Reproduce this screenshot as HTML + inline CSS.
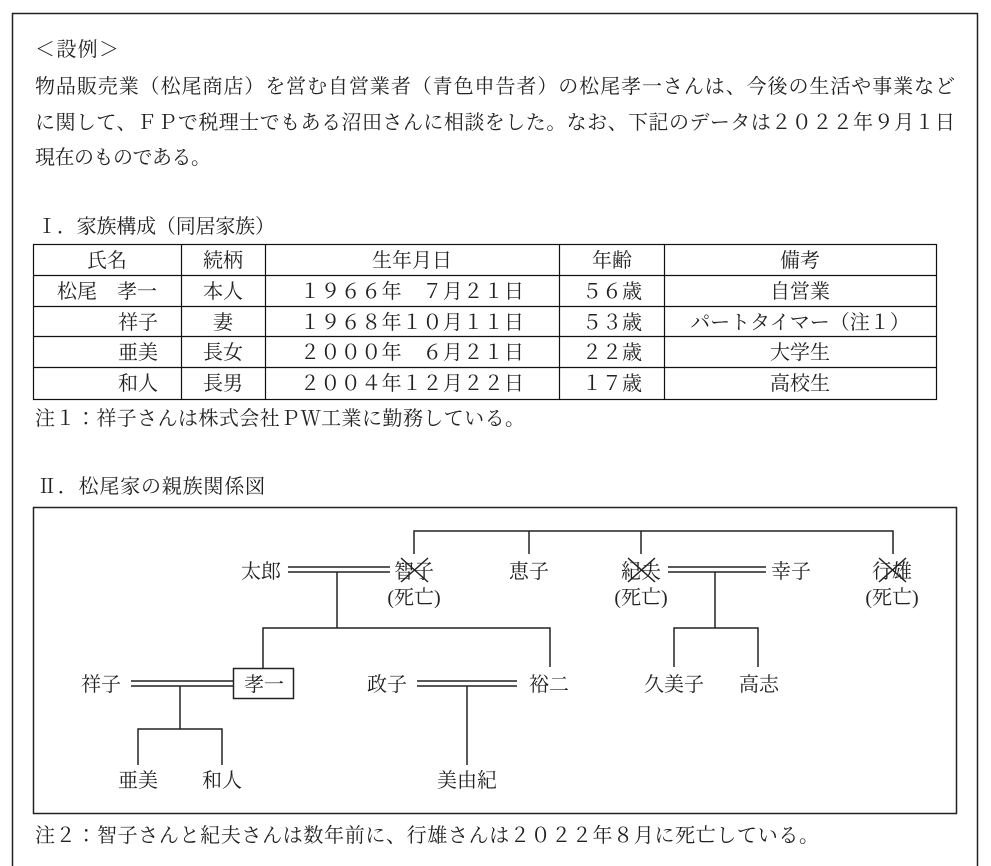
<!DOCTYPE html>
<html><head><meta charset="utf-8"><style>
html,body{margin:0;padding:0;background:#fff;width:991px;height:866px;overflow:hidden}
svg text{font-family:"Liberation Serif","Noto Serif CJK JP",serif;font-size:20px;fill:#222}
</style></head><body>
<svg width="991" height="866" viewBox="0 0 991 866" xmlns="http://www.w3.org/2000/svg">
<g stroke="#222" fill="none">
<rect x="12.5" y="13.5" width="965" height="860" stroke-width="1.5"/>
</g>
<text x="35" y="56" textLength="84" lengthAdjust="spacing">＜設例＞</text>
<text x="35" y="93" textLength="920" lengthAdjust="spacing">物品販売業（松尾商店）を営む自営業者（青色申告者）の松尾孝一さんは、今後の生活や事業など</text>
<text x="35" y="129" textLength="920" lengthAdjust="spacing">に関して、ＦＰで税理士でもある沼田さんに相談をした。なお、下記のデータは２０２２年９月１日</text>
<text x="35" y="164" textLength="176" lengthAdjust="spacing">現在のものである。</text>
<text x="37" y="233" textLength="238" lengthAdjust="spacing">Ⅰ．家族構成（同居家族）</text>

<g stroke="#111" stroke-width="1.2" fill="none">
<rect x="33.5" y="244.5" width="903" height="155"/>
<line x1="33" y1="275.5" x2="937" y2="275.5"/>
<line x1="33" y1="306.5" x2="937" y2="306.5"/>
<line x1="33" y1="336.5" x2="937" y2="336.5"/>
<line x1="33" y1="367.5" x2="937" y2="367.5"/>
<line x1="181.5" y1="244" x2="181.5" y2="400"/>
<line x1="265.5" y1="244" x2="265.5" y2="400"/>
<line x1="559.5" y1="244" x2="559.5" y2="400"/>
<line x1="664.5" y1="244" x2="664.5" y2="400"/>
</g>
<g text-anchor="middle">
<text x="107" y="267">氏名</text><text x="223" y="267">続柄</text><text x="412" y="267">生年月日</text><text x="612" y="267">年齢</text><text x="800" y="267">備考</text>
<text x="223" y="298">本人</text><text x="223" y="329">妻</text><text x="223" y="359">長女</text><text x="223" y="390">長男</text>
<text x="612" y="298">５６歳</text><text x="612" y="329">５３歳</text><text x="612" y="359">２２歳</text><text x="612" y="390">１７歳</text>
<text x="800" y="298">自営業</text><text x="800" y="329">パートタイマー（注１）</text><text x="800" y="359">大学生</text><text x="800" y="390">高校生</text>
</g>
<text x="57" y="298">松尾　孝一</text>
<text x="118" y="329">祥子</text><text x="118" y="359">亜美</text><text x="118" y="390">和人</text>
<text x="300" y="298" textLength="224" lengthAdjust="spacing">１９６６年　７月２１日</text>
<text x="300" y="329" textLength="224" lengthAdjust="spacing">１９６８年１０月１１日</text>
<text x="300" y="359" textLength="224" lengthAdjust="spacing">２０００年　６月２１日</text>
<text x="300" y="390" textLength="224" lengthAdjust="spacing">２００４年１２月２２日</text>
<text x="35" y="425" textLength="490" lengthAdjust="spacing">注１：祥子さんは株式会社ＰＷ工業に勤務している。</text>
<text x="37" y="493" textLength="228" lengthAdjust="spacing">Ⅱ．松尾家の親族関係図</text>

<g stroke="#222" stroke-width="1.5" fill="none">
<rect x="33.5" y="507.5" width="923" height="306"/>
<polyline points="414,554 414,531 893,531 893,554"/>
<line x1="529" y1="531" x2="529" y2="554"/>
<line x1="641" y1="531" x2="641" y2="554"/>
<line x1="288" y1="567" x2="390" y2="567"/><line x1="288" y1="572" x2="390" y2="572"/>
<line x1="337" y1="572" x2="337" y2="628"/>
<polyline points="263,668 263,628 550,628 550,667"/>
<rect x="233.5" y="668.5" width="60" height="30"/>
<line x1="131" y1="681" x2="233" y2="681"/><line x1="131" y1="686" x2="233" y2="686"/>
<line x1="180" y1="686" x2="180" y2="729"/>
<polyline points="138,765 138,729 222,729 222,765"/>
<line x1="417" y1="681" x2="517" y2="681"/><line x1="417" y1="686" x2="517" y2="686"/>
<line x1="467" y1="686" x2="467" y2="765"/>
<line x1="668" y1="567" x2="766" y2="567"/><line x1="668" y1="572" x2="766" y2="572"/>
<line x1="715" y1="572" x2="715" y2="628"/>
<polyline points="674,667 674,628 758,628 758,667"/>
<line x1="401" y1="558" x2="428" y2="582"/><line x1="428" y1="558" x2="401" y2="582"/>
<line x1="628" y1="558" x2="655" y2="582"/><line x1="655" y1="558" x2="628" y2="582"/>
<line x1="879" y1="558" x2="906" y2="582"/><line x1="906" y1="558" x2="879" y2="582"/>
</g>
<g text-anchor="middle">
<text x="261" y="578">太郎</text><text x="414" y="578">智子</text><text x="414" y="604">(死亡)</text>
<text x="529" y="578">恵子</text><text x="641" y="578">紀夫</text><text x="641" y="604">(死亡)</text>
<text x="791" y="578">幸子</text><text x="892" y="578">行雄</text><text x="892" y="604">(死亡)</text>
<text x="101" y="691">祥子</text><text x="264" y="691">孝一</text><text x="387" y="691">政子</text><text x="549" y="691">裕二</text>
<text x="674" y="691">久美子</text><text x="759" y="691">高志</text>
<text x="138" y="787">亜美</text><text x="222" y="787">和人</text><text x="467" y="787">美由紀</text>
</g>
<text x="35" y="842" textLength="784" lengthAdjust="spacing">注２：智子さんと紀夫さんは数年前に、行雄さんは２０２２年８月に死亡している。</text>
</svg>
</body></html>
